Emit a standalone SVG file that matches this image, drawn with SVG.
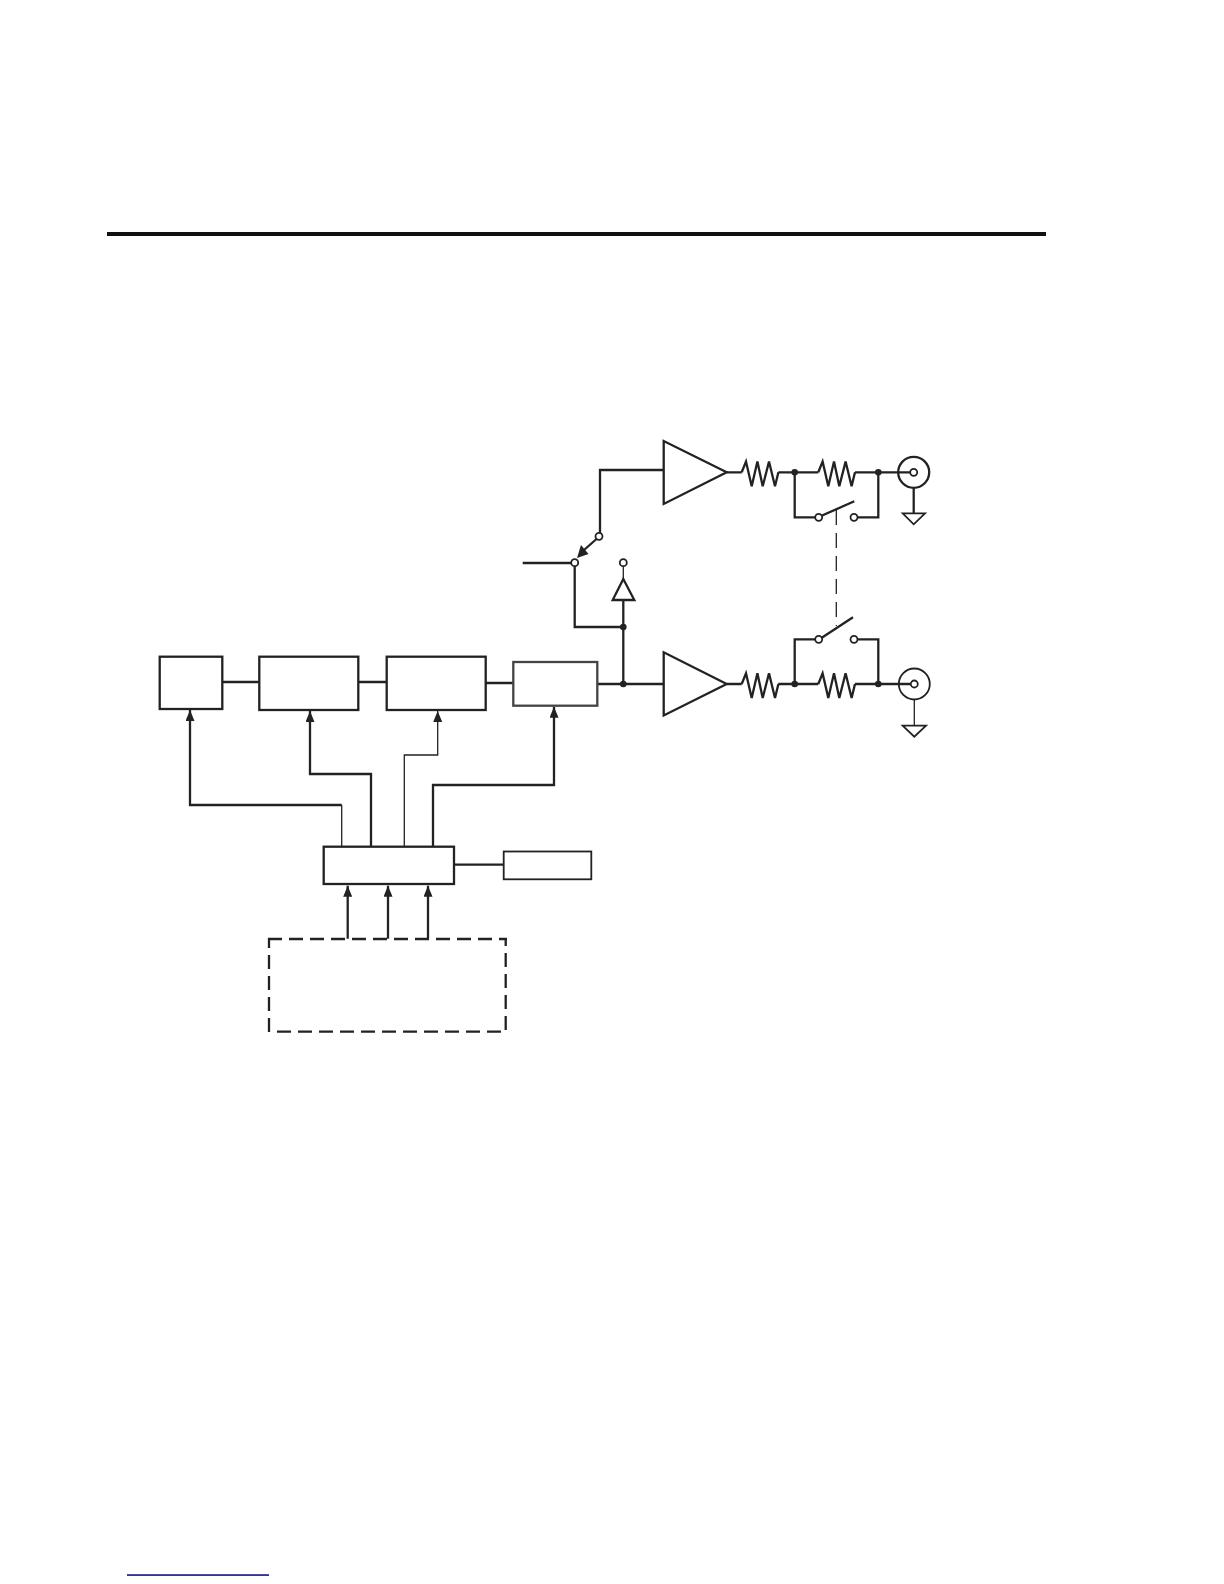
<svg xmlns="http://www.w3.org/2000/svg" width="1224" height="1584" viewBox="0 0 1224 1584">
<style>
.b{fill:#fff;stroke:#222;stroke-width:2.300}
.n{fill:#fff;stroke:#222;stroke-width:1.800}
.l{fill:none;stroke:#222;stroke-width:2.300}
.t{fill:none;stroke:#222;stroke-width:1.300}
.a{fill:#222;stroke:none}
.o{fill:#fff;stroke:#222;stroke-width:1.800}
.h{fill:none;stroke:#222;stroke-width:2.300;stroke-dasharray:14 7}
</style>
<defs>
<marker id="ar" viewBox="0 0 11 9" refX="11" refY="4.500" markerWidth="11" markerHeight="9" markerUnits="userSpaceOnUse" orient="auto"><path d="M0 0L11 4.500L0 9Z" class="a"/></marker>
<path id="res" class="l" d="M0 0L4.300 -10.700L10 14L15.700 -10.700L21 14L27.300 -10.700L33.300 14L36.700 0"/>
</defs>
<rect width="1224" height="1584" fill="#fff"/>
<rect id="top-rule" x="107" y="232" width="939" height="4" fill="#111"/>
<rect id="foot-rule" x="127" y="1574.300" width="142" height="1.500" fill="#00008b"/>
<g id="connectors">
<path class="l" d="M222.300 682H259.300M358.300 682H386.700M485.700 683H513.300M597.300 684H663.700"/>
<path class="l" d="M454 864.700H503.700"/>
<path class="l" d="M623.300 684V600M623.300 627H574.700V563M522.700 563H571"/>
<path class="t" d="M623.300 580V566"/>
<path class="l" d="M600 533V470H663.700"/>
<path class="l" d="M596.500 539L584 550"/>
<path class="a" d="M577 558L588.500 554L581 545Z"/>
<path class="l" d="M726.700 472.300H741.700M778.300 472.300H818.300M855 472.300H910"/>
<path class="l" d="M726.700 684H741.700M778.300 684H818.300M855 684H910"/>
<use href="#res" x="741.700" y="472.300"/>
<use href="#res" x="818.300" y="472.300"/>
<use href="#res" x="741.700" y="684"/>
<use href="#res" x="818.300" y="684"/>
<path class="l" d="M794.700 472.300V517.300H815M857.500 517.300H878.300V472.300"/>
<path class="l" d="M794.700 684V639.300H815M857.500 639.300H878.300V684"/>
<path class="l" d="M821 516L854.300 501.300"/>
<path class="l" d="M821 638.300L853 617.300"/>
<path class="t" d="M836.300 510V626" stroke-dasharray="15 8"/>
<path class="l" d="M913.700 487V513.300"/>
<path class="t" d="M914.300 699V725.700"/>
<path class="l" d="M341.700 805H190V710" marker-end="url(#ar)"/>
<path class="t" d="M341.700 805V846.700"/>
<path class="l" d="M371 846.700V774H310V711" marker-end="url(#ar)"/>
<path class="t" d="M404.300 846.700V755H437.700V711" marker-end="url(#ar)"/>
<path class="l" d="M433 846.700V785H554V706.700" marker-end="url(#ar)"/>
<path class="l" d="M347.700 938.700V885.700" marker-end="url(#ar)"/>
<path class="l" d="M388 938.700V885.700" marker-end="url(#ar)"/>
<path class="l" d="M428 938.700V885.700" marker-end="url(#ar)"/>
</g>
<g id="block-1"><rect class="b" x="159.700" y="656.700" width="62.600" height="52.300"/></g>
<g id="block-2"><rect class="b" x="259.300" y="656.700" width="99" height="53.300"/></g>
<g id="block-3"><rect class="b" x="386.700" y="656.700" width="99" height="53.300"/></g>
<g id="block-4"><rect class="b" x="513.300" y="662" width="84" height="43.700" style="stroke:#444"/></g>
<g id="controller"><rect class="b" x="323.700" y="846.700" width="130.300" height="37.300"/></g>
<g id="side-block"><rect class="n" x="503.700" y="851.500" width="87.600" height="27.800"/></g>
<g id="dashed-block">
<path class="h" d="M268 939H506.900"/>
<path class="h" d="M269 938V1033" stroke-dashoffset="4"/>
<path class="h" d="M277 1031.700H506"/>
<path class="h" d="M505.700 938V1031" stroke-dashoffset="6"/>
</g>
<g id="amp-top"><path class="b" d="M663.700 441V504L726.700 472.300Z"/></g>
<g id="amp-bottom"><path class="b" d="M663.700 652.300V715.500L726.700 684Z"/></g>
<g id="buffer"><path class="b" d="M623.300 579L634.300 600H612.700Z"/></g>
<g id="joints">
<circle class="a" cx="623.300" cy="627" r="3.300"/><circle class="a" cx="623.300" cy="684" r="3.300"/>
<circle class="a" cx="794.700" cy="472.300" r="3.300"/><circle class="a" cx="878.300" cy="472.300" r="3.300"/>
<circle class="a" cx="794.700" cy="684" r="3.300"/><circle class="a" cx="878.300" cy="684" r="3.300"/>
</g>
<g id="terminals">
<circle class="o" cx="599" cy="536.300" r="3.500"/><circle class="o" cx="574.700" cy="562.700" r="3.500"/><circle class="o" cx="623.300" cy="562.700" r="3.500"/>
<circle class="o" cx="818.700" cy="517.300" r="3.500"/><circle class="o" cx="854" cy="517.300" r="3.500"/>
<circle class="o" cx="818.700" cy="639.300" r="3.500"/><circle class="o" cx="854" cy="639.300" r="3.500"/>
</g>
<g id="connector-top"><circle cx="913.700" cy="472.300" r="15.500" fill="none" stroke="#222" stroke-width="2.300"/><circle class="o" cx="913.700" cy="472.300" r="3.500"/><path class="n" d="M902.700 513.300H925L913.700 524.300Z"/></g>
<g id="connector-bottom"><circle cx="914.300" cy="684" r="15.500" fill="none" stroke="#222" stroke-width="1.800"/><circle class="o" cx="914.300" cy="684" r="3.500"/><path class="n" d="M902.700 725.700H926L914.300 736.700Z"/></g>
</svg>
